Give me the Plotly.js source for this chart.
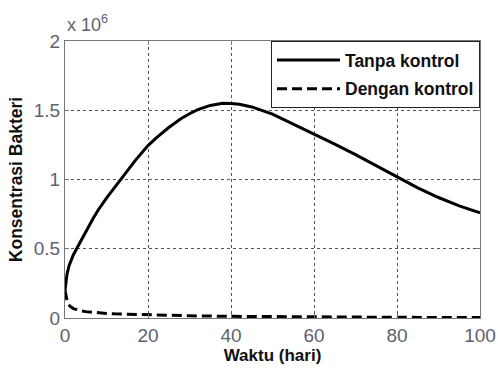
<!DOCTYPE html>
<html>
<head>
<meta charset="utf-8">
<script src="https://cdn.plot.ly/plotly-3.0.1.min.js"></script>
<style>html,body{margin:0;padding:0;background:#fff;}#chart{width:498px;height:369px;}</style>
</head>
<body>
<div id="chart"></div>
<script>
// Time (days) for the uncontrolled series
var tSolid = [0, 0.2, 0.5, 1, 1.5, 2, 2.8, 3.5, 4.5, 5.5, 6.8, 8, 9, 10, 11, 12, 13.3, 15, 17, 20, 22, 25, 28, 30, 32, 35, 38, 40, 42, 45, 48, 50, 55, 60, 65, 70, 75, 80, 85, 90, 95, 100];
// Bacteria concentration without control (x 10^6)
var ySolid = [0.20, 0.26, 0.32, 0.38, 0.42, 0.455, 0.50, 0.54, 0.595, 0.65, 0.72, 0.78, 0.825, 0.865, 0.905, 0.945, 0.995, 1.065, 1.14, 1.245, 1.30, 1.375, 1.44, 1.475, 1.505, 1.535, 1.55, 1.549, 1.543, 1.524, 1.496, 1.472, 1.40, 1.33, 1.255, 1.18, 1.10, 1.015, 0.94, 0.87, 0.81, 0.76];
// Time (days) for the controlled series
var tDash = [0, 0.15, 0.3, 0.5, 0.8, 1.2, 2, 3, 4, 5, 6.5, 8, 10, 12, 15, 20, 25, 30, 40, 50, 60, 70, 80, 90, 100];
// Bacteria concentration with control (x 10^6)
var yDash = [0.20, 0.17, 0.145, 0.125, 0.10, 0.085, 0.068, 0.058, 0.051, 0.046, 0.041, 0.037, 0.033, 0.030, 0.027, 0.022, 0.019, 0.016, 0.012, 0.009, 0.007, 0.006, 0.005, 0.004, 0.003];
var seriesNames = ["Tanpa kontrol", "Dengan kontrol"];
var xTicks = [0, 20, 40, 60, 80, 100];
var yTicks = [0, 0.5, 1, 1.5, 2];
var yTickText = ["0", "0.5", "1", "1.5", "2"];

var FONT = "Liberation Sans, Arial, sans-serif";
var traces = [
  {x: tSolid, y: ySolid, mode: "lines", name: seriesNames[0], legendgroup: "a",
   line: {color: "#000", width: 3}},
  {x: tDash, y: yDash, mode: "lines", name: seriesNames[1], legendgroup: "b",
   line: {color: "#000", width: 3, dash: "10px,5px"}}
];
var axisCommon = {
  showline: true, linecolor: "#777", linewidth: 1, mirror: "ticks",
  ticks: "inside", ticklen: 4, tickcolor: "#777",
  showgrid: true, gridcolor: "#555", gridwidth: 1, griddash: "3px,3px",
  zeroline: false,
  tickfont: {family: FONT, size: 19, color: "#5e6270"}
};
var layout = {
  width: 498, height: 369,
  margin: {l: 65, r: 18, t: 41, b: 51},
  paper_bgcolor: "#fff", plot_bgcolor: "#fff",
  font: {family: FONT},
  xaxis: Object.assign({}, axisCommon, {
    range: [0, 100], tickvals: xTicks, ticktext: xTicks.map(String),
    title: {text: "<b>Waktu (hari)</b>", font: {family: FONT, size: 17, color: "#111"}, standoff: 4}
  }),
  yaxis: Object.assign({}, axisCommon, {
    range: [0, 2], tickvals: yTicks, ticktext: yTickText,
    title: {text: "<b>Konsentrasi Bakteri</b>", font: {family: FONT, size: 17.5, color: "#111"}, standoff: 6}
  }),
  showlegend: true,
  legend: {
    x: 1, xanchor: "right", y: 1, yanchor: "top",
    bgcolor: "#fff", bordercolor: "#222", borderwidth: 1,
    font: {family: FONT, size: 17.5, color: "#111", weight: "bold"},
    itemwidth: 63, tracegroupgap: 3, entrywidth: 212
  },
  annotations: [{
    xref: "paper", yref: "paper", x: 0, y: 1, xanchor: "left", yanchor: "bottom",
    yshift: 4, showarrow: false,
    text: "x 10<sup>6</sup>", font: {family: FONT, size: 18, color: "#5e6270"}
  }]
};
Plotly.newPlot("chart", traces, layout, {staticPlot: true, displayModeBar: false});
</script>
</body>
</html>
